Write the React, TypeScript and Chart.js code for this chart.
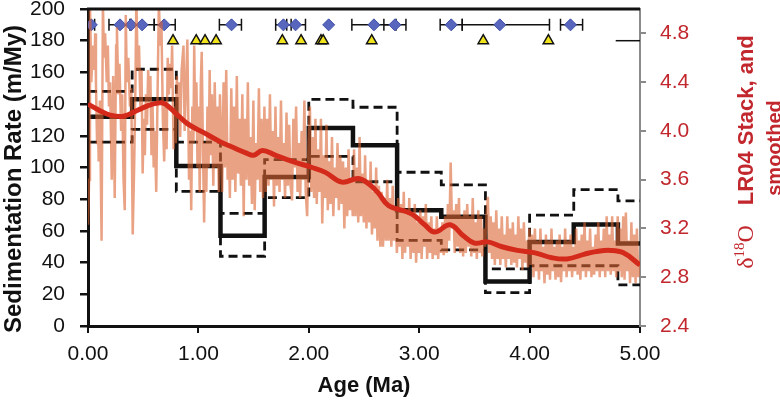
import { useEffect, useRef } from 'react';
import { Chart, registerables } from 'chart.js';

Chart.register(...registerables);

// ---- axis ticks ----
const xTicks = [0, 1, 2, 3, 4, 5];
const leftTicks = [0, 20, 40, 60, 80, 100, 120, 140, 160, 180, 200];
const rightTicks = [2.4, 2.8, 3.2, 3.6, 4.0, 4.4, 4.8];

// ---- sedimentation rate steps (m/My) per age bin (Ma) ----
const binEdges = [0, 0.4, 0.8, 1.2, 1.6, 2.0, 2.4, 2.8, 3.2, 3.6, 4.0, 4.4, 4.8, 5.0];
const sedRate = [132, 143, 101, 57, 94, 125, 114, 73, 69, 28, 53, 64, 52];
const sedRateUpper = [148, 162, 116, 71, 105, 143, 138, 97, 89, 36, 70, 86, 79];
const sedRateLower = [116, 124, 85, 44, 81, 107, 91, 54, 48, 21, 38, 38, 26];

// ---- age control points ----
const dateAges = [0.03, 0.29, 0.39, 0.49, 0.69, 1.3, 1.77, 1.88, 2.18, 2.59, 2.78, 3.29, 3.73, 4.37];
const dateErrLo = [0.03, 0.1, 0, 0.11, 0.09, 0.11, 0.07, 0.08, 0, 0.2, 0.1, 0.1, 0.34, 0.09];
const dateErrHi = [0.03, 0.1, 0, 0.11, 0.1, 0.09, 0.07, 0.09, 0, 0.2, 0.1, 0.1, 0.45, 0.11];
const dateLevel = 190;
const tieAges = [0.77, 0.98, 1.06, 1.16, 1.76, 1.93, 2.11, 2.13, 2.57, 3.58, 4.17];
const tieLevel = 180;
const refLineAges = [4.78, 5.0];

// ---- LR04 stack (d18O, per mil) ----
const lr04Age = [
  0.0, 0.01, 0.018, 0.03, 0.045, 0.058, 0.065, 0.072, 0.082, 0.088, 0.097, 0.108, 0.123, 0.135, 0.145, 0.155, 0.17, 0.18, 0.19, 0.2,
  0.215, 0.228, 0.242, 0.255, 0.262, 0.275, 0.285, 0.3, 0.31, 0.322, 0.333, 0.342, 0.352, 0.365, 0.38, 0.392, 0.405, 0.418, 0.43, 0.438,
  0.45, 0.462, 0.475, 0.485, 0.495, 0.505, 0.515, 0.525, 0.535, 0.545, 0.555, 0.565, 0.575, 0.585, 0.595, 0.605, 0.618, 0.63, 0.642, 0.655,
  0.665, 0.678, 0.69, 0.7, 0.712, 0.722, 0.732, 0.742, 0.752, 0.762, 0.775, 0.785, 0.795,
  0.805, 0.815, 0.825, 0.835, 0.848, 0.865, 0.875, 0.885, 0.9, 0.915, 0.925, 0.935, 0.945, 0.955, 0.962, 0.972, 0.982, 0.992, 1.002, 1.012,
  1.022, 1.03, 1.042, 1.052, 1.062, 1.072, 1.082, 1.092, 1.102, 1.112, 1.122, 1.135, 1.148, 1.16, 1.172, 1.185, 1.195,
  1.205, 1.215, 1.228, 1.24, 1.252, 1.265, 1.275, 1.285, 1.298, 1.31, 1.322, 1.335, 1.348, 1.36, 1.372, 1.385, 1.398, 1.41, 1.422, 1.435,
  1.448, 1.46, 1.472, 1.485, 1.498, 1.51, 1.522, 1.535, 1.548, 1.56, 1.572, 1.585, 1.598,
  1.61, 1.622, 1.635, 1.648, 1.66, 1.672, 1.685, 1.698, 1.71, 1.722, 1.735, 1.748, 1.76, 1.772, 1.785, 1.798, 1.81, 1.822, 1.835, 1.848,
  1.86, 1.872, 1.885, 1.898, 1.91, 1.922, 1.935, 1.948, 1.96, 1.972, 1.985, 1.998,
  2.01, 2.022, 2.035, 2.048, 2.06, 2.072, 2.085, 2.098, 2.11, 2.122, 2.135, 2.148, 2.16, 2.172, 2.185, 2.198, 2.21, 2.222, 2.235, 2.248,
  2.26, 2.272, 2.285, 2.298, 2.31, 2.322, 2.335, 2.348, 2.36, 2.372, 2.385, 2.398,
  2.41, 2.422, 2.435, 2.448, 2.46, 2.472, 2.485, 2.498, 2.51, 2.522, 2.535, 2.548, 2.56, 2.572, 2.585, 2.598, 2.61, 2.622, 2.635, 2.648,
  2.66, 2.672, 2.685, 2.698, 2.71, 2.722, 2.735, 2.748, 2.76, 2.772, 2.785, 2.798,
  2.81, 2.822, 2.835, 2.848, 2.86, 2.872, 2.885, 2.898, 2.91, 2.922, 2.935, 2.948, 2.96, 2.972, 2.985, 2.998, 3.01, 3.022, 3.035, 3.048,
  3.06, 3.072, 3.085, 3.098, 3.11, 3.122, 3.135, 3.148, 3.16, 3.172, 3.185, 3.198,
  3.21, 3.222, 3.235, 3.248, 3.26, 3.272, 3.285, 3.298, 3.31, 3.322, 3.335, 3.348, 3.36, 3.372, 3.385, 3.398, 3.41, 3.422, 3.435, 3.448,
  3.46, 3.472, 3.485, 3.498, 3.51, 3.522, 3.535, 3.548, 3.56, 3.572, 3.585, 3.598,
  3.61, 3.622, 3.635, 3.648, 3.66, 3.672, 3.685, 3.698, 3.71, 3.722, 3.735, 3.748, 3.76, 3.772, 3.785, 3.798, 3.81, 3.822, 3.835, 3.848,
  3.86, 3.872, 3.885, 3.898, 3.91, 3.922, 3.935, 3.948, 3.96, 3.972, 3.985, 3.998,
  4.01, 4.022, 4.035, 4.048, 4.06, 4.072, 4.085, 4.098, 4.11, 4.122, 4.135, 4.148, 4.16, 4.172, 4.185, 4.198, 4.21, 4.222, 4.235, 4.248,
  4.26, 4.272, 4.285, 4.298, 4.31, 4.322, 4.335, 4.348, 4.36, 4.372, 4.385, 4.398,
  4.41, 4.422, 4.435, 4.448, 4.46, 4.472, 4.485, 4.498, 4.51, 4.522, 4.535, 4.548, 4.56, 4.572, 4.585, 4.598, 4.61, 4.622, 4.635, 4.648,
  4.66, 4.672, 4.685, 4.698, 4.71, 4.722, 4.735, 4.748, 4.76, 4.772, 4.785, 4.798,
  4.81, 4.822, 4.835, 4.848, 4.86, 4.872, 4.885, 4.898, 4.91, 4.922, 4.935, 4.948, 4.96, 4.972, 4.985, 5.0,
];
const lr04D18O = [
  3.23, 3.6, 5.05, 4.4, 4.7, 4.5, 4.8, 4.4, 3.9, 4.2, 3.75, 4.25, 3.1, 5.05, 4.6, 4.8, 4.4, 4.7, 4.2, 4.4,
  3.6, 4.45, 3.45, 4.7, 4.85, 4.3, 4.55, 4.0, 4.3, 3.6, 3.35, 4.95, 4.4, 4.6, 4.2, 4.35, 3.15, 3.7, 4.4, 5.1,
  4.5, 4.7, 4.2, 4.5, 3.65, 4.1, 3.8, 4.3, 4.05, 4.5, 4.25, 4.45, 3.8, 4.2, 3.7, 4.0, 3.5, 4.3, 5.05, 4.7,
  4.9, 4.1, 3.75, 4.2, 3.85, 4.6, 4.3, 4.55, 4.35, 4.7, 3.85, 4.2, 3.9,
  4.45, 4.1, 4.4, 3.95, 4.5, 4.7, 4.0, 4.3, 4.75, 3.6, 4.0, 3.35, 4.2, 3.9, 4.7, 4.0, 4.4, 3.7, 4.2, 3.5,
  4.4, 4.65, 3.8, 3.25, 3.9, 3.5, 4.2, 3.7, 4.5, 3.8, 4.3, 3.55, 4.4, 3.7, 4.2, 3.5, 4.3,
  4.0, 3.5, 4.4, 3.7, 4.5, 3.6, 3.9, 3.45, 4.35, 3.6, 4.2, 3.5, 4.45, 3.65, 4.1, 3.55, 4.3, 3.3, 4.1, 3.6,
  4.4, 3.55, 3.95, 3.4, 4.25, 3.35, 3.9, 3.6, 4.35, 3.5, 4.1, 3.45, 4.2,
  3.5, 4.1, 3.55, 4.3, 3.6, 4.0, 3.38, 4.2, 3.55, 3.95, 3.5, 4.25, 3.6, 3.9, 3.45, 4.15, 3.55, 4.05, 3.55, 3.43,
  4.1, 3.7, 4.2, 3.5, 3.9, 3.45, 4.0, 3.6, 4.25, 3.5, 3.3, 3.9,
  4.2, 3.5, 3.95, 3.45, 4.1, 3.4, 3.85, 3.5, 4.1, 3.24, 3.8, 3.45, 4.05, 3.35, 3.75, 3.4, 3.95, 3.3, 3.7, 3.45,
  3.9, 3.35, 3.8, 3.4, 3.75, 3.2, 3.7, 3.3, 3.85, 3.35, 3.6, 3.3,
  3.85, 3.3, 3.7, 3.25, 3.95, 3.3, 3.65, 3.25, 3.8, 3.2, 3.6, 3.25, 3.75, 3.15, 3.5, 3.2, 3.7, 3.1, 3.55, 3.05,
  3.5, 3.05, 3.45, 3.1, 3.6, 3.1, 3.45, 3.05, 3.55, 3.1, 3.35, 3.0,
  3.45, 3.05, 3.4, 2.95, 3.5, 3.0, 3.35, 3.05, 3.45, 2.95, 3.3, 3.0, 3.4, 2.92, 3.25, 3.0, 3.35, 2.95, 3.3, 3.05,
  3.4, 2.95, 3.25, 3.0, 3.3, 2.95, 3.2, 2.98, 3.3, 2.95, 3.2, 3.0,
  3.25, 2.98, 3.3, 3.0, 3.4, 3.1, 3.74, 3.2, 3.35, 3.0, 3.4, 3.05, 3.45, 3.0, 3.3, 2.97, 3.35, 3.0, 3.4, 3.05,
  3.3, 2.97, 3.45, 3.0, 3.25, 2.95, 3.35, 3.0, 3.3, 2.97, 3.2, 3.05,
  3.3, 3.46, 3.0, 3.3, 2.95, 3.25, 2.9, 3.35, 2.95, 3.2, 2.9, 3.3, 2.95, 3.15, 2.88, 3.3, 2.95, 3.2, 2.9, 3.25,
  2.92, 3.15, 2.88, 3.3, 2.95, 3.2, 2.86, 3.25, 2.92, 3.1, 2.88, 3.2,
  2.9, 3.15, 2.8, 3.2, 2.85, 3.1, 2.78, 3.2, 2.85, 3.05, 2.75, 3.15, 2.82, 3.1, 2.78, 3.2, 2.85, 3.05, 2.78, 3.1,
  2.8, 3.15, 2.76, 3.05, 2.85, 3.2, 2.8, 3.1, 2.85, 3.15, 2.8, 3.05,
  2.85, 3.2, 2.82, 3.1, 2.78, 3.15, 2.85, 3.25, 2.8, 3.1, 2.85, 3.2, 2.8, 3.05, 2.82, 3.15, 2.85, 3.25, 2.8, 3.1,
  2.85, 3.2, 2.8, 3.3, 2.85, 3.15, 2.82, 3.3, 2.85, 3.1, 2.8, 3.3,
  2.85, 3.2, 2.8, 3.3, 2.78, 3.33, 2.85, 3.1, 2.75, 3.25, 2.8, 3.15, 2.75, 3.2, 2.8, 2.95,
];

// ---- smoothed LR04 ----
const smoothAge = [0, 0.1, 0.2, 0.32, 0.45, 0.55, 0.65, 0.7, 0.8, 0.9, 1.04, 1.2, 1.3, 1.43, 1.5, 1.58, 1.7, 1.85, 2.03, 2.15,
  2.3, 2.45, 2.55, 2.63, 2.72, 2.93, 3.05, 3.14, 3.28, 3.4, 3.5, 3.62, 3.75, 3.89, 4.05, 4.2, 4.34, 4.5, 4.6, 4.73, 4.85, 5.0];
const smoothD18O = [4.22, 4.17, 4.13, 4.12, 4.17, 4.21, 4.23, 4.22, 4.14, 4.06, 3.99, 3.91, 3.87, 3.82, 3.8, 3.84, 3.8, 3.75, 3.7, 3.66,
  3.58, 3.61, 3.56, 3.49, 3.39, 3.32, 3.23, 3.17, 3.23, 3.14, 3.08, 3.09, 3.05, 3.02, 3.0, 2.96, 2.95, 2.99, 3.01, 3.02, 3.0, 2.9];

const stepPoints = (vals: number[]) =>
  binEdges.map((x, i) => ({ x, y: vals[Math.min(i, vals.length - 1)] }));

const SANS = '"Liberation Sans", Arial, Helvetica, sans-serif';
const SERIF = '"Liberation Serif", "Times New Roman", serif';
const RED = '#c1272d';

const decorPlugin = {
  id: 'decor',
  beforeDatasetsDraw(chart: any) {
    const { ctx } = chart;
    const xs = chart.scales.x;
    const ys = chart.scales.y;
    ctx.save();
    ctx.strokeStyle = '#111';
    ctx.lineWidth = 1.5;
    const y = ys.getPixelForValue(dateLevel);
    dateAges.forEach((a, i) => {
      const lo = dateErrLo[i];
      const hi = dateErrHi[i];
      if (lo === 0 && hi === 0) return;
      const x1 = xs.getPixelForValue(Math.max(0, a - lo));
      const x2 = xs.getPixelForValue(a + hi);
      ctx.beginPath();
      ctx.moveTo(x1, y);
      ctx.lineTo(x2, y);
      ctx.moveTo(x1, y - 6);
      ctx.lineTo(x1, y + 6);
      ctx.moveTo(x2, y - 6);
      ctx.lineTo(x2, y + 6);
      ctx.stroke();
    });
    ctx.restore();
  },
  afterDraw(chart: any) {
    const { ctx, chartArea } = chart;
    ctx.save();
    // top frame line
    ctx.strokeStyle = '#111';
    ctx.lineWidth = 3;
    ctx.beginPath();
    ctx.moveTo(chartArea.left - 1, chartArea.top);
    ctx.lineTo(chartArea.right, chartArea.top);
    ctx.stroke();

    // left title
    ctx.save();
    ctx.translate(14, 179);
    ctx.rotate(-Math.PI / 2);
    ctx.fillStyle = '#111';
    ctx.font = `bold 24px ${SANS}`;
    ctx.textAlign = 'center';
    ctx.textBaseline = 'middle';
    ctx.fillText('Sedimentation Rate (m/My)', 0, 0);
    ctx.restore();

    // right title (two lines, rotated)
    ctx.fillStyle = RED;
    ctx.save();
    ctx.translate(745, 152);
    ctx.rotate(-Math.PI / 2);
    ctx.textBaseline = 'alphabetic';
    ctx.textAlign = 'left';
    const fBig = `24px ${SERIF}`;
    const fSup = `15px ${SERIF}`;
    const fBold = `bold 22px ${SANS}`;
    ctx.font = fBig;
    const wD = ctx.measureText('δ').width;
    const wO = ctx.measureText('O').width;
    ctx.font = fSup;
    const wS = ctx.measureText('18').width;
    ctx.font = fBold;
    const txt = 'LR04 Stack, and';
    const wT = ctx.measureText(txt).width;
    const gap = 20;
    const total = wD + wS + wO + gap + wT;
    let x = -total / 2;
    const base = 8;
    ctx.font = fBig;
    ctx.fillText('δ', x, base);
    x += wD;
    ctx.font = fSup;
    ctx.fillText('18', x, base - 9);
    x += wS;
    ctx.font = fBig;
    ctx.fillText('O', x, base);
    x += wO + gap;
    ctx.font = fBold;
    ctx.fillText(txt, x, base);
    ctx.restore();

    ctx.save();
    ctx.translate(773, 148);
    ctx.rotate(-Math.PI / 2);
    ctx.font = `bold 20px ${SANS}`;
    ctx.textAlign = 'center';
    ctx.textBaseline = 'alphabetic';
    ctx.fillText('smoothed', 0, 8);
    ctx.restore();

    ctx.restore();
  },
};

const noPad = (s: any) => {
  s.paddingTop = 0;
  s.paddingBottom = 0;
  s.paddingLeft = 0;
  s.paddingRight = 0;
};

export default function App() {
  const ref = useRef<HTMLCanvasElement | null>(null);

  useEffect(() => {
    if (!ref.current) return;
    const chart = new Chart(ref.current, {
      type: 'line',
      data: {
        datasets: [
          {
            label: 'LR04 smoothed',
            data: smoothAge.map((x, i) => ({ x, y: smoothD18O[i] })),
            yAxisID: 'y2',
            borderColor: '#d42a1c',
            borderWidth: 5,
            pointRadius: 0,
            tension: 0.4,
            order: 0,
          },
          {
            label: 'LR04 stack',
            data: lr04Age.map((x, i) => ({ x, y: lr04D18O[i] })),
            yAxisID: 'y2',
            borderColor: 'rgba(220, 100, 50, 0.6)',
            borderWidth: 2.5,
            pointRadius: 0,
            tension: 0,
            order: 1,
          },
          {
            label: 'Dates',
            data: dateAges.map((x) => ({ x, y: dateLevel })),
            yAxisID: 'y',
            showLine: false,
            pointStyle: 'rectRot',
            pointRadius: 6,
            pointBackgroundColor: '#5866bd',
            pointBorderColor: '#4050a8',
            pointBorderWidth: 1,
            order: 2,
          },
          {
            label: 'Tie points',
            data: tieAges.map((x) => ({ x, y: tieLevel })),
            yAxisID: 'y',
            showLine: false,
            pointStyle: 'triangle',
            pointRadius: 6,
            pointBackgroundColor: '#f2e41c',
            pointBorderColor: '#111',
            pointBorderWidth: 1.5,
            order: 2,
          },
          {
            label: 'ref',
            data: refLineAges.map((x) => ({ x, y: tieLevel })),
            yAxisID: 'y',
            borderColor: '#111',
            borderWidth: 1.5,
            pointRadius: 0,
            order: 3,
          },
          {
            label: 'Sed rate',
            data: stepPoints(sedRate),
            yAxisID: 'y',
            stepped: true,
            borderColor: '#111',
            borderWidth: 4.5,
            pointRadius: 0,
            order: 3,
          },
          {
            label: 'Upper',
            data: stepPoints(sedRateUpper),
            yAxisID: 'y',
            stepped: true,
            borderColor: '#111',
            borderWidth: 2.8,
            borderDash: [9, 5],
            pointRadius: 0,
            order: 4,
          },
          {
            label: 'Lower',
            data: stepPoints(sedRateLower),
            yAxisID: 'y',
            stepped: true,
            borderColor: '#111',
            borderWidth: 2.8,
            borderDash: [9, 5],
            pointRadius: 0,
            order: 4,
          },
        ],
      },
      options: {
        animation: false,
        responsive: false,
        layout: { autoPadding: false, padding: { top: 9, left: 0, right: 0, bottom: 0 } },
        plugins: {
          legend: { display: false },
          tooltip: { enabled: false },
        },
        scales: {
          x: {
            type: 'linear',
            min: 0,
            max: 5,
            afterBuildTicks: (s: any) => {
              s.ticks = xTicks.map((v) => ({ value: v }));
            },
            afterFit: (s: any) => {
              s.height = 77;
              noPad(s);
            },
            ticks: {
              color: '#111',
              font: { family: SANS, size: 21 },
              padding: 9,
              maxRotation: 0,
              callback: (v: any) => Number(v).toFixed(2),
            },
            grid: { drawOnChartArea: false, drawTicks: true, tickLength: 7, color: '#111', lineWidth: 2 },
            border: { color: '#111', width: 3 },
            title: {
              display: true,
              text: 'Age (Ma)',
              color: '#111',
              font: { family: SANS, size: 22, weight: 'bold' },
              padding: { top: 0, bottom: 4 },
            },
          },
          y: {
            type: 'linear',
            position: 'left',
            min: 0,
            max: 200,
            afterBuildTicks: (s: any) => {
              s.ticks = leftTicks.map((v) => ({ value: v }));
            },
            afterFit: (s: any) => {
              s.width = 88;
              noPad(s);
            },
            ticks: {
              color: '#111',
              font: { family: SANS, size: 21 },
              padding: 15,
            },
            grid: { drawOnChartArea: false, drawTicks: true, tickLength: 8, color: '#111', lineWidth: 2.5 },
            border: { color: '#111', width: 3 },
          },
          y2: {
            type: 'linear',
            position: 'right',
            min: 2.4,
            max: 5.0,
            afterBuildTicks: (s: any) => {
              s.ticks = rightTicks.map((v) => ({ value: v }));
            },
            afterFit: (s: any) => {
              s.width = 140;
              noPad(s);
            },
            ticks: {
              color: RED,
              font: { family: SANS, size: 21 },
              padding: 14,
              callback: (v: any) => Number(v).toFixed(1),
            },
            grid: { drawOnChartArea: false, drawTicks: true, tickLength: 6, color: '#8a8a8a', lineWidth: 2 },
            border: { color: '#8a8a8a', width: 2 },
          },
        },
      },
      plugins: [decorPlugin],
    } as any);
    return () => chart.destroy();
  }, []);

  return (
    <div style={{ position: 'absolute', left: 0, top: 0, width: 780, height: 403, background: '#fff' }}>
      <canvas ref={ref} width={780} height={403} style={{ width: 780, height: 403, display: 'block' }} />
    </div>
  );
}
